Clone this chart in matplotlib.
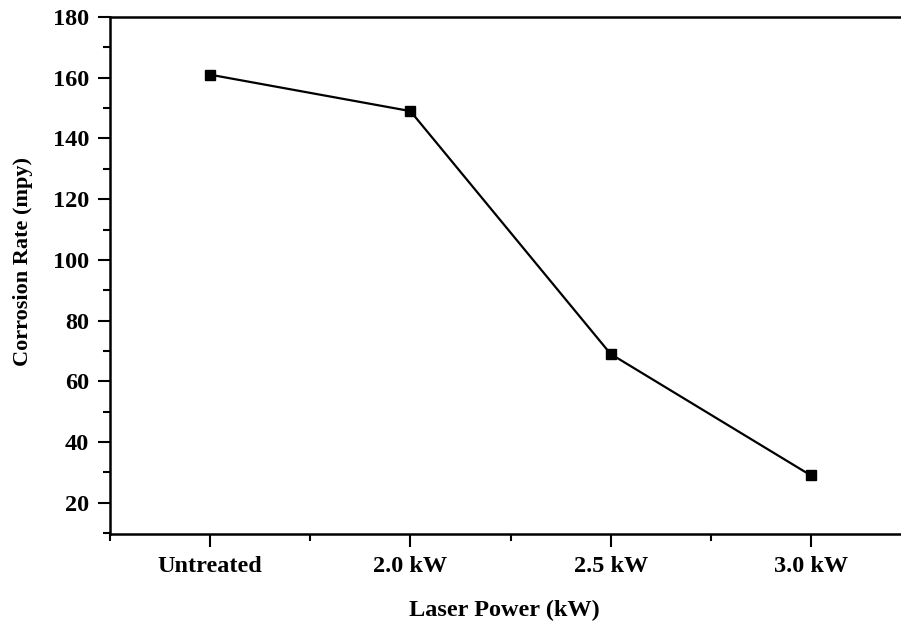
import numpy as np
import matplotlib
matplotlib.use('Agg')
import matplotlib.pyplot as plt
from matplotlib.ticker import MultipleLocator

categories = ['Untreated', '2.0 kW', '2.5 kW', '3.0 kW']
corrosion_rate = [161, 149, 69, 29]
y_ticks = [20, 40, 60, 80, 100, 120, 140, 160, 180]

plt.rcParams['font.family'] = ['Liberation Serif', 'DejaVu Serif']
plt.rcParams['font.weight'] = 'bold'

fig = plt.figure(figsize=(9.01, 6.25), dpi=100)
ax = fig.add_axes([0.1221, 0.1456, 0.8779, 0.8272])

x = np.arange(len(categories))
ax.plot(x, corrosion_rate, color='black', linewidth=1.6,
        marker='s', markersize=7, markerfacecolor='black', markeredgecolor='black')

ax.set_xlim(-0.5, 3.45)
ax.set_ylim(9.7, 180)

ax.set_xticks(x)
ax.set_xticklabels(categories, fontsize=17.5, fontweight='bold')
ax.xaxis.set_minor_locator(MultipleLocator(0.5))
ax.set_yticks(y_ticks)
ax.set_yticklabels([str(v) for v in y_ticks], fontsize=17.5, fontweight='bold')
ax.yaxis.set_minor_locator(MultipleLocator(10))

ax.tick_params(axis='both', which='major', direction='out', length=9, width=1.5, pad=6)
ax.tick_params(axis='both', which='minor', direction='out', length=5, width=1.5)
ax.tick_params(axis='x', which='major', pad=7)

ax.spines['right'].set_visible(False)
for side in ['left', 'bottom', 'top']:
    ax.spines[side].set_linewidth(1.8)

ax.set_xlabel('Laser Power (kW)', fontsize=17.5, fontweight='bold')
ax.set_ylabel('Corrosion Rate (mpy)', fontsize=16, fontweight='bold')
ax.xaxis.set_label_coords(0.498, -0.128)
ax.yaxis.set_label_coords(-0.097, 0.528)

fig.savefig('out.png', dpi=100)
